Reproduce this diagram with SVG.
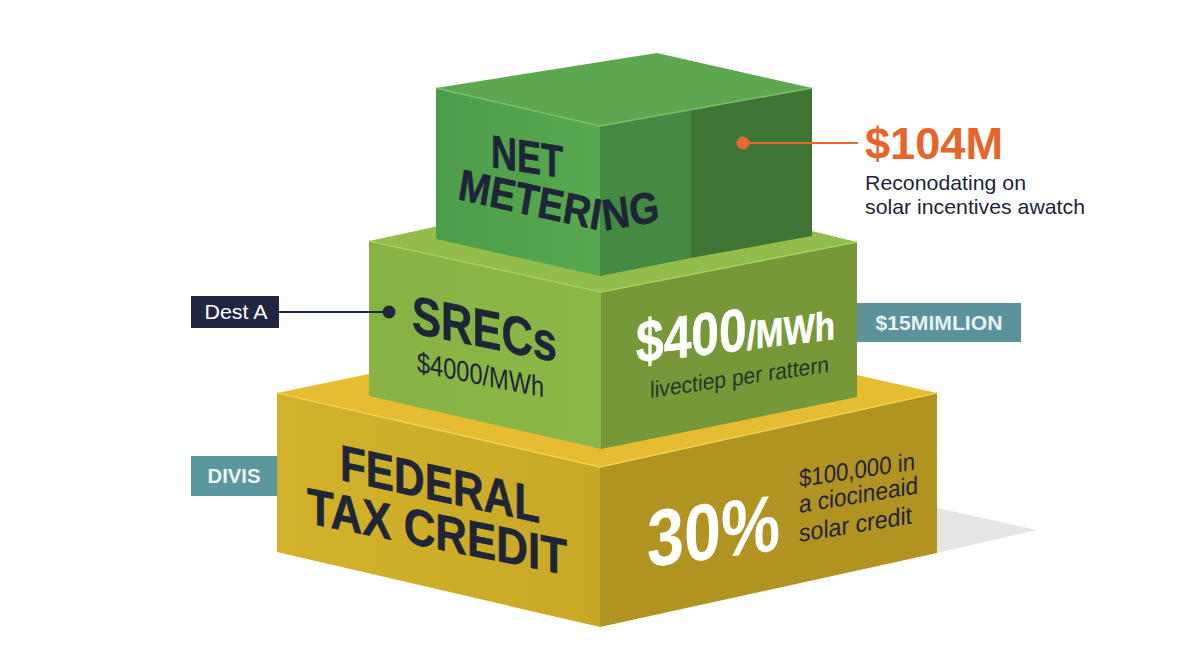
<svg xmlns="http://www.w3.org/2000/svg" width="1200" height="669" viewBox="0 0 1200 669">
<style>
text{font-family:"Liberation Sans",Arial,sans-serif}
.b{font-weight:700}
.dk{fill:#1e2538}
.hv{stroke:#1e2538;stroke-width:.6}
.wh{fill:#fff}
.hl{fill:none;stroke-width:1.5}
</style>
<defs>
<linearGradient id="gTopL" x1="0" x2="1" y1="0" y2="0"><stop offset="0" stop-color="#4d9c4a"/><stop offset="1" stop-color="#58a94f"/></linearGradient>
<linearGradient id="gMidL" x1="0" x2="1" y1="0" y2="0"><stop offset="0" stop-color="#86b343"/><stop offset="1" stop-color="#8bb746"/></linearGradient>
<linearGradient id="gBotL" x1="0" x2="1" y1="0" y2="0"><stop offset="0" stop-color="#d3b12a"/><stop offset="1" stop-color="#c8a926"/></linearGradient>
<path id="pMeter" d="M525,199 L692,231 L765,220"/>
</defs>
<rect width="1200" height="669" fill="#fff"/>
<polygon points="937,508 1037,530 937,553" fill="#e4e6e6"/>
<g id="side-labels">
<g id="label-dest-a"><rect x="191" y="296" width="88" height="32" fill="#1f2640"/><text x="236" y="319" font-size="21" fill="#fff" text-anchor="middle" textLength="63" lengthAdjust="spacingAndGlyphs">Dest A</text></g>
<g id="label-divis"><rect x="191" y="456" width="88" height="40" fill="#5b979e"/><text class="b" x="234" y="483" font-size="21" fill="#eef4f4" text-anchor="middle" textLength="53" lengthAdjust="spacingAndGlyphs">DIVIS</text></g>
<g id="label-15m"><rect x="855" y="303" width="166" height="39" fill="#5b929b"/><text class="b" x="939" y="330" font-size="20" fill="#e9f1f2" text-anchor="middle" textLength="127" lengthAdjust="spacingAndGlyphs">$15MIMLION</text></g>
</g>
<g id="block-federal">
<polygon points="277,393 620,322 937,393 600,467" fill="#e6bd30"/>
<polygon points="277,393 600,467 600,627 277,552" fill="url(#gBotL)"/>
<polygon points="600,467 937,393 937,553 600,627" fill="#b09321"/>
<polyline class="hl" points="277,393 600,467 937,393" stroke="#efcf55"/>
<text class="b dk hv" font-size="51" transform="matrix(1,0.215,0,1,340,480)" textLength="200" lengthAdjust="spacingAndGlyphs">FEDERAL</text>
<text class="b dk hv" font-size="51" transform="matrix(1,0.2,0,1,307,523)" textLength="260" lengthAdjust="spacingAndGlyphs">TAX CREDIT</text>
<text class="b wh" font-size="80" transform="matrix(1,-0.13,0,1,647,567)" textLength="133" lengthAdjust="spacingAndGlyphs">30%</text>
<text class="dk" font-size="25" transform="matrix(1,-0.15,0,1,799,487)" textLength="116" lengthAdjust="spacingAndGlyphs">$100,000 in</text>
<text class="dk" font-size="25" transform="matrix(1,-0.165,0,1,799,513)" textLength="119" lengthAdjust="spacingAndGlyphs">a ciocineaid</text>
<text class="dk" font-size="25" transform="matrix(1,-0.165,0,1,799,542)" textLength="113" lengthAdjust="spacingAndGlyphs">solar credit</text>
</g>
<g id="block-srecs">
<polygon points="369,241 625,186 857,242 601,292" fill="#93bd4b"/>
<polygon points="369,241 601,292 601,449 369,396" fill="url(#gMidL)"/>
<polygon points="601,292 857,242 857,397 601,449" fill="#779838"/>
<polyline class="hl" points="369,241 601,292 857,242" stroke="#a9cf62"/>
<text class="b dk hv" font-size="54" transform="matrix(1,0.2,0,1,412,333)" textLength="145" lengthAdjust="spacingAndGlyphs">SRECs</text>
<text class="dk" font-size="29" transform="matrix(1,0.2,0,1,417,372)" textLength="127" lengthAdjust="spacingAndGlyphs">$4000/MWh</text>
<text class="b wh" font-size="60" stroke="#fff" stroke-width=".5" transform="matrix(1,-0.12,0,1,636,363)" textLength="199" lengthAdjust="spacingAndGlyphs">$400<tspan font-size="40">/MWh</tspan></text>
<text font-size="23" fill="#1f3a28" transform="matrix(1,-0.145,0,1,650,398)" textLength="179" lengthAdjust="spacingAndGlyphs">livectiep per rattern</text>
</g>
<g id="block-net-metering">
<polygon points="436,88 657,53 812,88 600,126" fill="#5da84f"/>
<polygon points="436,88 600,126 600,276 436,239" fill="url(#gTopL)"/>
<polygon points="600,126 691,109 691,258 600,276" fill="#458a43"/>
<polygon points="691,109 812,88 812,236 691,258" fill="#3e7535"/>
<polyline class="hl" points="436,88 600,126 812,88" stroke="#7cc06a"/>
<text class="b dk hv" font-size="46" transform="matrix(1,0.155,0,1,491,167)" textLength="72" lengthAdjust="spacingAndGlyphs">NET</text>
<text class="b dk hv" font-size="44" transform="scale(.87 1)"><textPath href="#pMeter"><tspan dx="0 0 0 0 0 0 6 0">METERING</tspan></textPath></text>
</g>
<g id="connectors">
<line x1="279" y1="312" x2="389" y2="312" stroke="#1f2640" stroke-width="2"/>
<circle cx="389" cy="312" r="6.5" fill="#1f2640"/>
<line x1="743" y1="143" x2="858" y2="143" stroke="#e5692d" stroke-width="2"/>
<circle cx="743" cy="143" r="6.5" fill="#e5692d"/>
</g>
<g id="callout-104m">
<text class="b" x="865" y="159" font-size="44" fill="#e5652a" textLength="138" lengthAdjust="spacingAndGlyphs">$104M</text>
<text class="dk" x="865" y="190" font-size="21" textLength="161" lengthAdjust="spacingAndGlyphs">Reconodating on</text>
<text class="dk" x="865" y="214" font-size="21" textLength="220" lengthAdjust="spacingAndGlyphs">solar incentives awatch</text>
</g>
</svg>
